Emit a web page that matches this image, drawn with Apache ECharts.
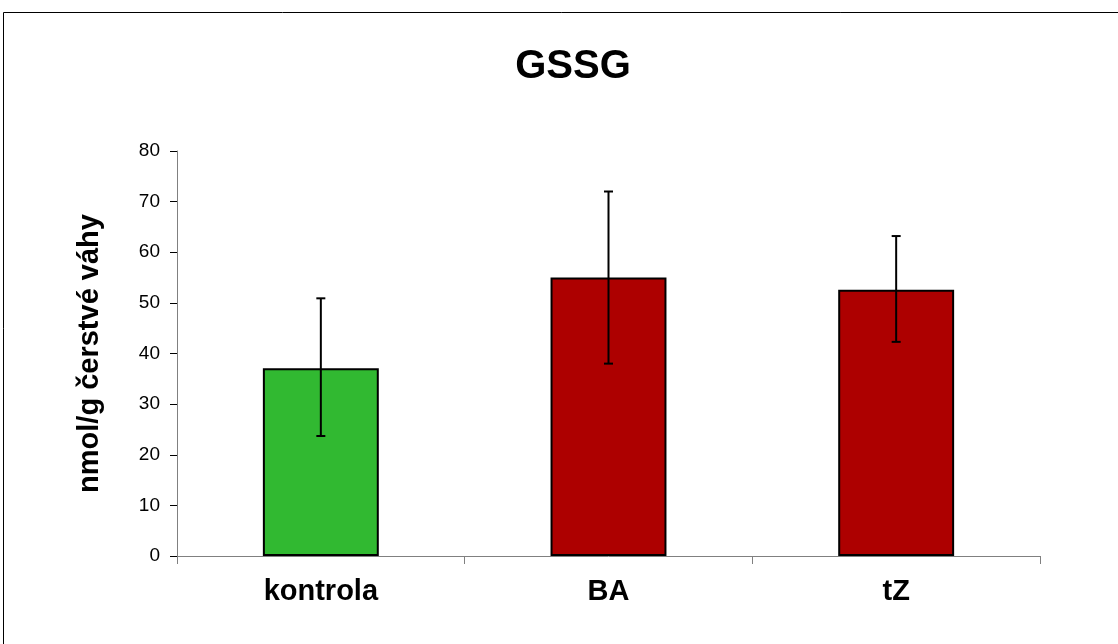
<!DOCTYPE html>
<html><head><meta charset="utf-8">
<script src="https://cdn.jsdelivr.net/npm/echarts@6/dist/echarts.min.js"></script>
<style>html,body{margin:0;padding:0;background:#fff}#c{width:1118px;height:644px}</style>
</head><body><div id="c"></div>
<script>
var categories = ['kontrola', 'BA', 'tZ'];
var values = [37.1, 55.0, 52.6];
var errLow = [23.7, 38.0, 42.3];
var errHigh = [50.9, 72.0, 63.2];
var barColors = ['#31B931', '#AD0000', '#AD0000'];
var yTicks = [0, 10, 20, 30, 40, 50, 60, 70, 80];

var chart = echarts.init(document.getElementById('c'), null, {renderer: 'canvas'});
var font = '"Liberation Sans", Arial, sans-serif';
chart.setOption({
  animation: false,
  backgroundColor: '#fff',
  title: {
    text: 'GSSG', left: 568, top: 42, textAlign: 'center',
    textStyle: {fontFamily: font, fontSize: 40, fontWeight: 'bold', color: '#000'}
  },
  graphic: [{
    type: 'rect', shape: {x: 3.5, y: 12.5, width: 1200, height: 700},
    style: {fill: null, stroke: '#000', lineWidth: 1}, silent: true
  }],
  grid: {left: 177, right: 78, top: 151, bottom: 88},
  xAxis: {
    type: 'category', data: categories,
    axisLine: {lineStyle: {color: '#808080', width: 1}},
    axisTick: {show: true, alignWithLabel: false, length: 8, inside: false, lineStyle: {color: '#808080'}},
    axisLabel: {fontFamily: font, fontSize: 29, fontWeight: 'bold', color: '#000', margin: 21}
  },
  yAxis: {
    type: 'value', min: yTicks[0], max: yTicks[yTicks.length - 1], interval: 10,
    name: 'nmol/g čerstvé váhy', nameLocation: 'middle', nameGap: 73,
    nameTextStyle: {fontFamily: font, fontSize: 29, fontWeight: 'bold', color: '#000'},
    axisLine: {show: true, lineStyle: {color: '#808080', width: 1}},
    axisTick: {show: true, length: 7, lineStyle: {color: '#000'}},
    axisLabel: {fontFamily: font, fontSize: 19, color: '#000', margin: 17},
    splitLine: {show: false}
  },
  series: [{
    type: 'bar', barWidth: '40.3%',
    data: values.map(function (v, i) {
      return {value: v, itemStyle: {color: barColors[i], borderColor: '#000', borderWidth: 2}};
    })
  }, {
    type: 'custom', z: 10,
    renderItem: function (params, api) {
      var i = api.value(0);
      var lo = api.coord([i, api.value(1)]);
      var hi = api.coord([i, api.value(2)]);
      var w = 4.5;
      var st = {stroke: '#000', lineWidth: 2};
      return {type: 'group', children: [
        {type: 'line', shape: {x1: hi[0], y1: hi[1], x2: lo[0], y2: lo[1]}, style: st},
        {type: 'line', shape: {x1: hi[0] - w, y1: hi[1], x2: hi[0] + w, y2: hi[1]}, style: st},
        {type: 'line', shape: {x1: lo[0] - w, y1: lo[1], x2: lo[0] + w, y2: lo[1]}, style: st}
      ]};
    },
    data: categories.map(function (c, i) { return [i, errLow[i], errHigh[i]]; })
  }]
});
</script></body></html>
